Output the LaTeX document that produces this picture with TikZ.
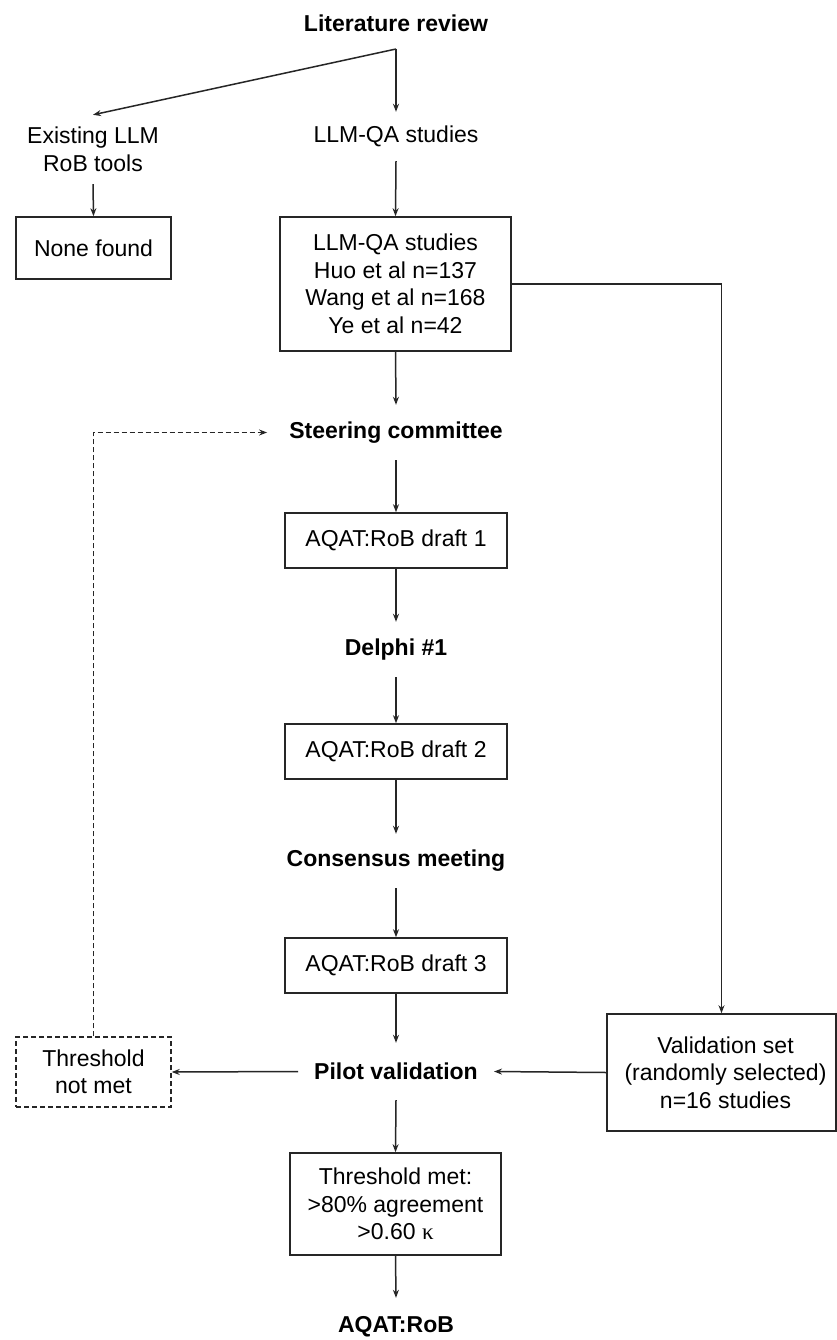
\documentclass[tikz,border=0pt]{standalone}
\usepackage{fontspec}
\setmainfont{Liberation Sans}
\newfontfamily\serifk{Liberation Serif}
\usetikzlibrary{arrows.meta}
\begin{document}
\begin{tikzpicture}[x=1pt,y=-1pt,
  every node/.style={font=\fontsize{23}{27.5}\selectfont, align=center},
  lbl/.style={inner xsep=16pt, inner ysep=0pt, minimum height=52pt},
  hdr/.style={lbl, font=\fontsize{23}{27.5}\selectfont\bfseries},
  boxn/.style={draw=black!85, line width=1.6pt, inner sep=0pt},
  dbox/.style={boxn, line width=1.4pt, dashed, dash pattern=on 5pt off 3pt},
  arr/.style={draw=black!85, line width=1.5pt, -{Stealth[length=8pt,width=6pt]}},
  ln/.style={draw=black!85, line width=1.5pt}
]
\useasboundingbox (0,0) rectangle (837,1340);
\fill[white] (0,0) rectangle (837,1340);

\node[hdr] (lit) at (396,23) {Literature review};
\coordinate (j) at (396,49);
\node[lbl, minimum height=69pt] (exist) at (93,149.5) {Existing LLM\\RoB tools};
\node[lbl, minimum height=49pt] (llmqa) at (396,136.5) {LLM-QA studies};
\node[boxn, minimum width=155pt, minimum height=62pt] (none) at (93.5,248) {None found};
\node[boxn, minimum width=231pt, minimum height=134pt] (qa) at (395.5,284)
  {LLM-QA studies\\Huo et al n=137\\Wang et al n=168\\Ye et al n=42};
\node[hdr, minimum height=55pt] (steer) at (396,432.5) {Steering committee};
\node[boxn, minimum width=222pt, minimum height=55pt] (d1) at (396,540.5) {AQAT:RoB draft 1};
\node[hdr, minimum height=55pt] (delphi) at (396,649.5) {Delphi \#1};
\node[boxn, minimum width=222pt, minimum height=55pt] (d2) at (396,751.5) {AQAT:RoB draft 2};
\node[hdr, minimum height=54pt] (cons) at (396,861) {Consensus meeting};
\node[boxn, minimum width=222pt, minimum height=55pt] (d3) at (396,965.5) {AQAT:RoB draft 3};
\node[hdr, minimum height=57pt] (pilot) at (396,1071.5) {Pilot validation};
\node[dbox, minimum width=155pt, minimum height=70pt] (tnm) at (93.5,1072) {Threshold\\not met};
\node[boxn, minimum width=229pt, minimum height=117pt] (val) at (721.5,1072.5)
  {\hspace*{8pt}Validation set\\\hspace*{8pt}(randomly selected)\\\hspace*{8pt}n=16 studies};
\node[boxn, minimum width=211pt, minimum height=102pt] (met) at (395.5,1204)
  {Threshold met:\\>80\% agreement\\>0.60 {\serifk κ}};
\node[hdr, minimum height=58pt] (aqat) at (396,1327) {AQAT:RoB};

\draw[arr] (j) -- (exist.north);
\draw[arr] (j) -- (llmqa.north);
\draw[arr] (exist.south) -- (none.north);
\draw[arr] (llmqa.south) -- (qa.north);
\draw[arr] (qa.south) -- (steer.north);
\draw[arr] (qa.east) -| (val.north);
\draw[arr] (steer.south) -- (d1.north);
\draw[arr] (d1.south) -- (delphi.north);
\draw[arr] (delphi.south) -- (d2.north);
\draw[arr] (d2.south) -- (cons.north);
\draw[arr] (cons.south) -- (d3.north);
\draw[arr] (d3.south) -- (pilot.north);
\draw[arr] (pilot.west) -- (tnm.east);
\draw[arr] (val.west) -- (pilot.east);
\draw[arr, line width=1.4pt, dashed, dash pattern=on 5pt off 3pt] (tnm.north) |- ([xshift=-6pt]steer.west);
\draw[arr] (pilot.south) -- (met.north);
\draw[arr] (met.south) -- (aqat.north);
\end{tikzpicture}
\end{document}
